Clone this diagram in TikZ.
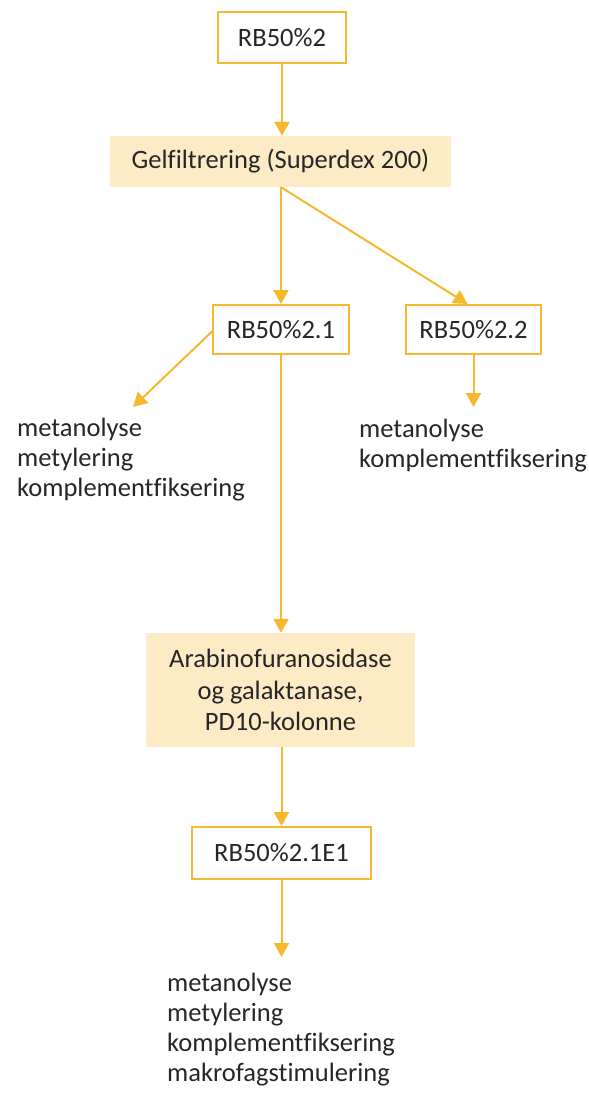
\documentclass[tikz,border=0pt]{standalone}
\usepackage{fontspec}
\setmainfont{Carlito}[Ligatures=NoCommon]
\usetikzlibrary{arrows.meta}
\definecolor{gold}{HTML}{F5B82E}
\definecolor{paleGold}{HTML}{FCEBC5}
\definecolor{ink}{HTML}{262626}
\begin{document}
\begin{tikzpicture}[x=1pt,y=-1pt,
  every node/.style={font=\fontsize{26.5}{30}\selectfont, text=ink},
  sample/.style={draw=gold, line width=2pt, fill=white, inner sep=0pt},
  process/.style={fill=paleGold, inner sep=0pt, align=center},
  results/.style={align=left, anchor=base west, inner sep=0pt},
  flow/.style={draw=gold, line width=2pt, -{Triangle[width=15pt,length=14pt]}}]
\useasboundingbox (0,0) rectangle (589,1093);

% samples and processing steps
\node[sample, minimum width=128pt, minimum height=51pt] (rb) at (282,37.5) {RB50\%2};
\node[process, minimum width=341pt, minimum height=51pt] (gel) at (280.5,161.5) {Gelfiltrering (Superdex 200)};
\node[sample, minimum width=136pt, minimum height=49pt] (r21) at (281,329.5) {RB50\%2.1};
\node[sample, minimum width=135pt, minimum height=49pt] (r22) at (473.5,329.5) {RB50\%2.2};
\node[process, minimum width=269pt, minimum height=114pt,
      font=\fontsize{26.5}{31.5}\selectfont] (arab) at (280.5,690)
  {Arabinofuranosidase\\og galaktanase,\\PD10-kolonne};
\node[sample, minimum width=179pt, minimum height=52pt] (e1) at (281.5,853) {RB50\%2.1E1};

% analyses (each node sits on the baseline of its last line)
\node[results] (l21) at (17,496) {metanolyse\\metylering\\komplementfiksering};
\node[results] (l22) at (359,467) {metanolyse\\komplementfiksering};
\node[results] (le1) at (167,1081) {metanolyse\\metylering\\komplementfiksering\\makrofagstimulering};

% arrow ends above the analyses
\coordinate (t21) at (133,407);
\coordinate (t22) at (473.5,407);
\coordinate (te1) at (281.5,957);

% connectors
\draw[flow] (rb.south) -- (rb.south |- gel.north);
\draw[flow] (r21.north |- gel.south) -- (r21.north);
\draw[flow] (r21.north |- gel.south) -- ([xshift=-6pt]r22.north);
\draw[flow] ([yshift=-2pt]r21.west) -- (t21);
\draw[flow] (r22.south) -- (t22);
\draw[flow] (r21.south) -- (r21.south |- arab.north);
\draw[flow] (arab.south -| e1.north) -- (e1.north);
\draw[flow] (e1.south) -- (te1);
\end{tikzpicture}
\end{document}
